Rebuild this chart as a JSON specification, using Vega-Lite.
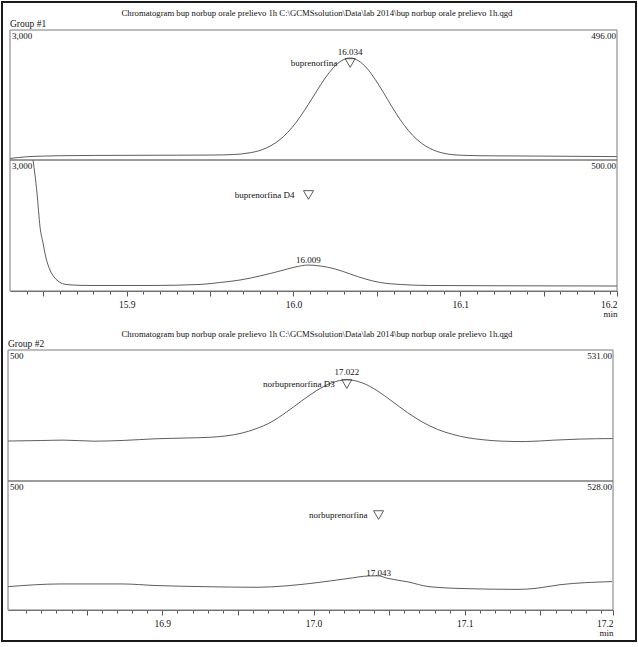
{
  "$schema": "https://vega.github.io/schema/vega-lite/v6.json",
  "width": 634,
  "height": 639,
  "autosize": "none",
  "padding": {"left": 2, "top": 2, "right": 2, "bottom": 6},
  "background": "white",
  "view": {"stroke": "#1a1a1a", "strokeWidth": 2},
  "config": {
    "font": "Liberation Serif",
    "text": {"font": "Liberation Serif", "fontSize": 9, "color": "#111"}
  },
  "datasets": {
    "a": [
      {"t": 15.83, "v": 1.2}, {"t": 15.835, "v": 1.9}, {"t": 15.84, "v": 2.5}, {"t": 15.85, "v": 3.0},
      {"t": 15.86, "v": 3.3}, {"t": 15.88, "v": 3.5}, {"t": 15.9, "v": 3.6}, {"t": 15.93, "v": 3.7},
      {"t": 15.95, "v": 3.8}, {"t": 15.964, "v": 4.2}, {"t": 15.974, "v": 5.6}, {"t": 15.979, "v": 7.0},
      {"t": 15.984, "v": 9.4}, {"t": 15.989, "v": 13.0}, {"t": 15.994, "v": 18.0}, {"t": 15.999, "v": 24.8},
      {"t": 16.004, "v": 33.2}, {"t": 16.009, "v": 43.0}, {"t": 16.014, "v": 53.2}, {"t": 16.019, "v": 63.0},
      {"t": 16.024, "v": 71.1}, {"t": 16.029, "v": 76.5}, {"t": 16.034, "v": 78.5}, {"t": 16.039, "v": 76.3},
      {"t": 16.044, "v": 70.6}, {"t": 16.049, "v": 62.0}, {"t": 16.054, "v": 51.8}, {"t": 16.059, "v": 41.0},
      {"t": 16.064, "v": 31.0}, {"t": 16.069, "v": 22.5}, {"t": 16.074, "v": 15.8}, {"t": 16.079, "v": 10.9},
      {"t": 16.084, "v": 7.6}, {"t": 16.089, "v": 5.5}, {"t": 16.094, "v": 4.3}, {"t": 16.104, "v": 3.5},
      {"t": 16.12, "v": 3.2}, {"t": 16.15, "v": 3.0}, {"t": 16.194, "v": 2.6}
    ],
    "b": [
      {"t": 15.8438, "v": 100}, {"t": 15.845, "v": 88.5}, {"t": 15.8462, "v": 74.8}, {"t": 15.848, "v": 48.9},
      {"t": 15.8498, "v": 36.6}, {"t": 15.8516, "v": 25.2}, {"t": 15.854, "v": 16.0}, {"t": 15.8564, "v": 10.7},
      {"t": 15.8588, "v": 7.6}, {"t": 15.8624, "v": 5.3}, {"t": 15.8672, "v": 4.6}, {"t": 15.878, "v": 4.2},
      {"t": 15.914, "v": 4.2}, {"t": 15.944, "v": 5.0}, {"t": 15.956, "v": 6.5}, {"t": 15.968, "v": 8.4},
      {"t": 15.98, "v": 11.5}, {"t": 15.992, "v": 15.3}, {"t": 16.001, "v": 18.3}, {"t": 16.0087, "v": 19.8},
      {"t": 16.016, "v": 19.1}, {"t": 16.025, "v": 16.8}, {"t": 16.034, "v": 13.0}, {"t": 16.043, "v": 9.2},
      {"t": 16.052, "v": 6.5}, {"t": 16.064, "v": 5.0}, {"t": 16.082, "v": 4.2}, {"t": 16.124, "v": 4.0},
      {"t": 16.194, "v": 3.8}
    ],
    "c": [
      {"t": 16.798, "v": 30.5}, {"t": 16.82, "v": 30.9}, {"t": 16.835, "v": 31.2}, {"t": 16.855, "v": 30.4},
      {"t": 16.875, "v": 31.0}, {"t": 16.895, "v": 32.2}, {"t": 16.915, "v": 32.8}, {"t": 16.932, "v": 33.4},
      {"t": 16.942, "v": 34.4}, {"t": 16.952, "v": 36.4}, {"t": 16.962, "v": 39.9}, {"t": 16.972, "v": 45.0},
      {"t": 16.982, "v": 52.5}, {"t": 16.992, "v": 61.0}, {"t": 17.002, "v": 69.0}, {"t": 17.012, "v": 74.9},
      {"t": 17.022, "v": 77.3}, {"t": 17.032, "v": 75.0}, {"t": 17.042, "v": 69.0}, {"t": 17.052, "v": 60.8},
      {"t": 17.062, "v": 52.3}, {"t": 17.072, "v": 45.0}, {"t": 17.082, "v": 39.4}, {"t": 17.092, "v": 35.6},
      {"t": 17.102, "v": 33.0}, {"t": 17.112, "v": 31.5}, {"t": 17.125, "v": 30.4}, {"t": 17.14, "v": 30.1},
      {"t": 17.159, "v": 31.2}, {"t": 17.176, "v": 32.0}, {"t": 17.198, "v": 32.4}
    ],
    "d": [
      {"t": 16.798, "v": 18.1}, {"t": 16.833, "v": 20.2}, {"t": 16.8734, "v": 20.2}, {"t": 16.8952, "v": 19.0},
      {"t": 16.9276, "v": 18.1}, {"t": 16.9626, "v": 17.6}, {"t": 16.9818, "v": 18.7}, {"t": 17.0003, "v": 20.9},
      {"t": 17.0221, "v": 24.3}, {"t": 17.0367, "v": 26.4}, {"t": 17.0426, "v": 26.5}, {"t": 17.0492, "v": 24.5},
      {"t": 17.0624, "v": 21.8}, {"t": 17.0763, "v": 18.1}, {"t": 17.1028, "v": 16.5}, {"t": 17.1352, "v": 16.0},
      {"t": 17.1464, "v": 16.7}, {"t": 17.1623, "v": 19.5}, {"t": 17.1974, "v": 22.0}
    ],
    "annA": [{"t": 16.034, "vm": 74.6, "vr": 83.1, "name": "buprenorfina", "rt": "16.034"}],
    "annB": [{"t": 16.009, "vm": 73.3, "vr": 23.7, "name": "buprenorfina D4", "rt": "16.009"}],
    "annC": [{"t": 17.022, "vm": 74.0, "vr": 83.2, "name": "norbuprenorfina D3", "rt": "17.022"}],
    "annD": [{"t": 17.043, "vm": 73.6, "vr": 28.7, "name": "norbuprenorfina", "rt": "17.043"}],
    "hdrA": [{"left": "3,000", "right": "496.00", "group": "Group #1", "title": "Chromatogram bup norbup orale prelievo 1h C:\\GCMSsolution\\Data\\lab 2014\\bup norbup orale prelievo 1h.qgd"}],
    "hdrB": [{"left": "3,000", "right": "500.00"}],
    "hdrC": [{"left": "500", "right": "531.00", "group": "Group #2", "title": "Chromatogram bup norbup orale prelievo 1h C:\\GCMSsolution\\Data\\lab 2014\\bup norbup orale prelievo 1h.qgd"}],
    "hdrD": [{"left": "500", "right": "528.00"}]
  },
  "resolve": {"scale": {"x": "independent", "y": "independent"}, "axis": {"x": "independent", "y": "independent"}},
  "layer": [
    {
      "layer": [
        {"data": {"name": "a"}, "mark": {"type": "line", "stroke": "#404040", "strokeWidth": 0.85, "interpolate": "monotone"},
         "encoding": {
           "x": {"field": "t", "type": "quantitative", "scale": {"domain": [15.83, 16.194], "range": [8, 615], "nice": false, "zero": false}, "axis": null},
           "y": {"field": "v", "type": "quantitative", "scale": {"domain": [0, 100], "range": [158, 28], "nice": false, "zero": false}, "axis": null}}},
        {"data": {"values": [{}]}, "mark": {"type": "rect", "fillOpacity": 0, "stroke": "#7a7a7a", "strokeWidth": 1},
         "encoding": {"x": {"datum": 15.83, "type": "quantitative", "axis": null}, "x2": {"datum": 16.194}, "y": {"datum": 0, "type": "quantitative", "axis": null}, "y2": {"datum": 100}}},
        {"data": {"name": "annA"}, "mark": {"type": "point", "shape": "triangle-down", "filled": false, "size": 100, "stroke": "#333", "strokeWidth": 0.8, "opacity": 1},
         "encoding": {"x": {"field": "t", "type": "quantitative", "axis": null}, "y": {"field": "vm", "type": "quantitative", "axis": null}}},
        {"data": {"name": "annA"}, "mark": {"type": "text", "align": "right", "baseline": "middle", "dx": -13},
         "encoding": {"x": {"field": "t", "type": "quantitative", "axis": null}, "y": {"field": "vm", "type": "quantitative", "axis": null}, "text": {"field": "name"}}},
        {"data": {"name": "annA"}, "mark": {"type": "text", "align": "center", "baseline": "middle"},
         "encoding": {"x": {"field": "t", "type": "quantitative", "axis": null}, "y": {"field": "vr", "type": "quantitative", "axis": null}, "text": {"field": "rt"}}},
        {"data": {"name": "hdrA"}, "mark": {"type": "text", "align": "left", "baseline": "top", "dx": 2, "dy": 2},
         "encoding": {"x": {"datum": 15.83, "type": "quantitative", "axis": null}, "y": {"datum": 100, "type": "quantitative", "axis": null}, "text": {"field": "left"}}},
        {"data": {"name": "hdrA"}, "mark": {"type": "text", "align": "right", "baseline": "top", "dx": -1, "dy": 2},
         "encoding": {"x": {"datum": 16.194, "type": "quantitative", "axis": null}, "y": {"datum": 100, "type": "quantitative", "axis": null}, "text": {"field": "right"}}},
        {"data": {"name": "hdrA"}, "mark": {"type": "text", "align": "center", "baseline": "middle", "fontSize": 8.7},
         "encoding": {"x": {"datum": 16.0141, "type": "quantitative", "axis": null}, "y": {"datum": 113.1, "type": "quantitative", "axis": null}, "text": {"field": "title"}}},
        {"data": {"name": "hdrA"}, "mark": {"type": "text", "align": "left", "baseline": "middle", "fontSize": 9.5},
         "encoding": {"x": {"datum": 15.83, "type": "quantitative", "axis": null}, "y": {"datum": 104.6, "type": "quantitative", "axis": null}, "text": {"field": "group"}}}
      ]
    },
    {
      "layer": [
        {"data": {"name": "b"}, "mark": {"type": "line", "stroke": "#404040", "strokeWidth": 0.85, "interpolate": "monotone"},
         "encoding": {
           "x": {"field": "t", "type": "quantitative", "scale": {"domain": [15.83, 16.194], "range": [8, 615], "nice": false, "zero": false},
             "axis": {
               "orient": "bottom", "offset": -350, "grid": false, "tickCount": 200,
               "values": [15.84,15.85,15.86,15.87,15.88,15.89,15.9,15.91,15.92,15.93,15.94,15.95,15.96,15.97,15.98,15.99,16,16.01,16.02,16.03,16.04,16.05,16.06,16.07,16.08,16.09,16.1,16.11,16.12,16.13,16.14,16.15,16.16,16.17,16.18,16.19,16.194],
               "labelExpr": "datum.value > 16.192 ? '16.2' : (abs(datum.value*10 - round(datum.value*10)) < 0.001 ? format(datum.value, '.1f') : '')",
               "tickSize": {"condition": {"test": "abs(datum.value*20 - round(datum.value*20)) < 0.001 || datum.value > 16.192", "value": 5}, "value": 3},
               "tickColor": "#555", "domainColor": "#666", "labelOverlap": false, "labelBound": false, "labelFlush": true,
               "labelFont": "Liberation Serif", "labelFontSize": 9.5, "labelColor": "#111", "labelPadding": 3,
               "title": "min", "titleAnchor": "end", "titleAlign": "right", "titleFont": "Liberation Serif", "titleFontSize": 9,
               "titleFontWeight": "normal", "titleColor": "#111", "titlePadding": 1
             }},
           "y": {"field": "v", "type": "quantitative", "scale": {"domain": [0, 100], "range": [289, 158], "nice": false, "zero": false}, "axis": null}}},
        {"data": {"values": [{}]}, "mark": {"type": "rect", "fillOpacity": 0, "stroke": "#7a7a7a", "strokeWidth": 1},
         "encoding": {"x": {"datum": 15.83, "type": "quantitative"}, "x2": {"datum": 16.194}, "y": {"datum": 0, "type": "quantitative", "axis": null}, "y2": {"datum": 100}}},
        {"data": {"name": "annB"}, "mark": {"type": "point", "shape": "triangle-down", "filled": false, "size": 100, "stroke": "#333", "strokeWidth": 0.8, "opacity": 1},
         "encoding": {"x": {"field": "t", "type": "quantitative"}, "y": {"field": "vm", "type": "quantitative", "axis": null}}},
        {"data": {"name": "annB"}, "mark": {"type": "text", "align": "right", "baseline": "middle", "dx": -14},
         "encoding": {"x": {"field": "t", "type": "quantitative"}, "y": {"field": "vm", "type": "quantitative", "axis": null}, "text": {"field": "name"}}},
        {"data": {"name": "annB"}, "mark": {"type": "text", "align": "center", "baseline": "middle"},
         "encoding": {"x": {"field": "t", "type": "quantitative"}, "y": {"field": "vr", "type": "quantitative", "axis": null}, "text": {"field": "rt"}}},
        {"data": {"name": "hdrB"}, "mark": {"type": "text", "align": "left", "baseline": "top", "dx": 2, "dy": 2},
         "encoding": {"x": {"datum": 15.83, "type": "quantitative"}, "y": {"datum": 100, "type": "quantitative", "axis": null}, "text": {"field": "left"}}},
        {"data": {"name": "hdrB"}, "mark": {"type": "text", "align": "right", "baseline": "top", "dx": -1, "dy": 2},
         "encoding": {"x": {"datum": 16.194, "type": "quantitative"}, "y": {"datum": 100, "type": "quantitative", "axis": null}, "text": {"field": "right"}}}
      ]
    },
    {
      "layer": [
        {"data": {"name": "c"}, "mark": {"type": "line", "stroke": "#404040", "strokeWidth": 0.85, "interpolate": "monotone"},
         "encoding": {
           "x": {"field": "t", "type": "quantitative", "scale": {"domain": [16.798, 17.198], "range": [6, 611], "nice": false, "zero": false}, "axis": null},
           "y": {"field": "v", "type": "quantitative", "scale": {"domain": [0, 100], "range": [479, 348], "nice": false, "zero": false}, "axis": null}}},
        {"data": {"values": [{}]}, "mark": {"type": "rect", "fillOpacity": 0, "stroke": "#7a7a7a", "strokeWidth": 1},
         "encoding": {"x": {"datum": 16.798, "type": "quantitative", "axis": null}, "x2": {"datum": 17.198}, "y": {"datum": 0, "type": "quantitative", "axis": null}, "y2": {"datum": 100}}},
        {"data": {"name": "annC"}, "mark": {"type": "point", "shape": "triangle-down", "filled": false, "size": 100, "stroke": "#333", "strokeWidth": 0.8, "opacity": 1},
         "encoding": {"x": {"field": "t", "type": "quantitative", "axis": null}, "y": {"field": "vm", "type": "quantitative", "axis": null}}},
        {"data": {"name": "annC"}, "mark": {"type": "text", "align": "right", "baseline": "middle", "dx": -12},
         "encoding": {"x": {"field": "t", "type": "quantitative", "axis": null}, "y": {"field": "vm", "type": "quantitative", "axis": null}, "text": {"field": "name"}}},
        {"data": {"name": "annC"}, "mark": {"type": "text", "align": "center", "baseline": "middle"},
         "encoding": {"x": {"field": "t", "type": "quantitative", "axis": null}, "y": {"field": "vr", "type": "quantitative", "axis": null}, "text": {"field": "rt"}}},
        {"data": {"name": "hdrC"}, "mark": {"type": "text", "align": "left", "baseline": "top", "dx": 2, "dy": 2},
         "encoding": {"x": {"datum": 16.798, "type": "quantitative", "axis": null}, "y": {"datum": 100, "type": "quantitative", "axis": null}, "text": {"field": "left"}}},
        {"data": {"name": "hdrC"}, "mark": {"type": "text", "align": "right", "baseline": "top", "dx": -1, "dy": 2},
         "encoding": {"x": {"datum": 17.198, "type": "quantitative", "axis": null}, "y": {"datum": 100, "type": "quantitative", "axis": null}, "text": {"field": "right"}}},
        {"data": {"name": "hdrC"}, "mark": {"type": "text", "align": "center", "baseline": "middle", "fontSize": 8.7},
         "encoding": {"x": {"datum": 17.0023, "type": "quantitative", "axis": null}, "y": {"datum": 112.2, "type": "quantitative", "axis": null}, "text": {"field": "title"}}},
        {"data": {"name": "hdrC"}, "mark": {"type": "text", "align": "left", "baseline": "middle", "fontSize": 9.5},
         "encoding": {"x": {"datum": 16.798, "type": "quantitative", "axis": null}, "y": {"datum": 104.6, "type": "quantitative", "axis": null}, "text": {"field": "group"}}}
      ]
    },
    {
      "layer": [
        {"data": {"name": "d"}, "mark": {"type": "line", "stroke": "#404040", "strokeWidth": 0.85, "interpolate": "monotone"},
         "encoding": {
           "x": {"field": "t", "type": "quantitative", "scale": {"domain": [16.798, 17.198], "range": [6, 611], "nice": false, "zero": false},
             "axis": {
               "orient": "bottom", "offset": -31, "grid": false, "tickCount": 200,
               "values": [16.81,16.82,16.83,16.84,16.85,16.86,16.87,16.88,16.89,16.9,16.91,16.92,16.93,16.94,16.95,16.96,16.97,16.98,16.99,17,17.01,17.02,17.03,17.04,17.05,17.06,17.07,17.08,17.09,17.1,17.11,17.12,17.13,17.14,17.15,17.16,17.17,17.18,17.19,17.198],
               "labelExpr": "datum.value > 17.195 ? '17.2' : (abs(datum.value*10 - round(datum.value*10)) < 0.001 ? format(datum.value, '.1f') : '')",
               "tickSize": {"condition": {"test": "abs(datum.value*20 - round(datum.value*20)) < 0.001 || datum.value > 17.195", "value": 5}, "value": 3},
               "tickColor": "#555", "domainColor": "#666", "labelOverlap": false, "labelBound": false, "labelFlush": true,
               "labelFont": "Liberation Serif", "labelFontSize": 9.5, "labelColor": "#111", "labelPadding": 3,
               "title": "min", "titleAnchor": "end", "titleAlign": "right", "titleFont": "Liberation Serif", "titleFontSize": 9,
               "titleFontWeight": "normal", "titleColor": "#111", "titlePadding": 1
             }},
           "y": {"field": "v", "type": "quantitative", "scale": {"domain": [0, 100], "range": [608, 479], "nice": false, "zero": false}, "axis": null}}},
        {"data": {"values": [{}]}, "mark": {"type": "rect", "fillOpacity": 0, "stroke": "#7a7a7a", "strokeWidth": 1},
         "encoding": {"x": {"datum": 16.798, "type": "quantitative"}, "x2": {"datum": 17.198}, "y": {"datum": 0, "type": "quantitative", "axis": null}, "y2": {"datum": 100}}},
        {"data": {"name": "annD"}, "mark": {"type": "point", "shape": "triangle-down", "filled": false, "size": 100, "stroke": "#333", "strokeWidth": 0.8, "opacity": 1},
         "encoding": {"x": {"field": "t", "type": "quantitative"}, "y": {"field": "vm", "type": "quantitative", "axis": null}}},
        {"data": {"name": "annD"}, "mark": {"type": "text", "align": "right", "baseline": "middle", "dx": -11},
         "encoding": {"x": {"field": "t", "type": "quantitative"}, "y": {"field": "vm", "type": "quantitative", "axis": null}, "text": {"field": "name"}}},
        {"data": {"name": "annD"}, "mark": {"type": "text", "align": "center", "baseline": "middle"},
         "encoding": {"x": {"field": "t", "type": "quantitative"}, "y": {"field": "vr", "type": "quantitative", "axis": null}, "text": {"field": "rt"}}},
        {"data": {"name": "hdrD"}, "mark": {"type": "text", "align": "left", "baseline": "top", "dx": 2, "dy": 2},
         "encoding": {"x": {"datum": 16.798, "type": "quantitative"}, "y": {"datum": 100, "type": "quantitative", "axis": null}, "text": {"field": "left"}}},
        {"data": {"name": "hdrD"}, "mark": {"type": "text", "align": "right", "baseline": "top", "dx": -1, "dy": 2},
         "encoding": {"x": {"datum": 17.198, "type": "quantitative"}, "y": {"datum": 100, "type": "quantitative", "axis": null}, "text": {"field": "right"}}}
      ]
    }
  ]
}
